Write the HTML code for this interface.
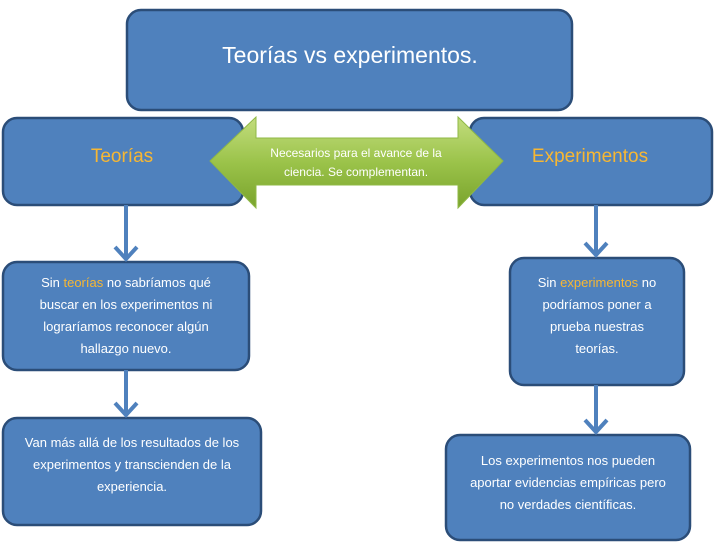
<!DOCTYPE html>
<html><head><meta charset="utf-8"><style>
body{margin:0;background:#fff;width:716px;height:549px;overflow:hidden}
svg{display:block}
text{font-family:"Liberation Sans",sans-serif;fill:#fff;text-anchor:middle}
</style></head><body>
<svg width="716" height="549" viewBox="0 0 716 549">
<defs>
<linearGradient id="g" x1="0" y1="0" x2="0" y2="1"><stop offset="0" stop-color="#c3dd7e"/><stop offset="0.5" stop-color="#9bc34a"/><stop offset="1" stop-color="#79a32c"/></linearGradient>
</defs>
<g fill="#4f81bd" stroke="#2b4d78" stroke-width="2.5">
<rect x="127" y="10" width="445" height="100" rx="14"/>
<rect x="3" y="118" width="240" height="87" rx="14"/>
<rect x="470" y="118" width="242" height="87" rx="14"/>
<rect x="3" y="262" width="246" height="108" rx="14"/>
<rect x="3" y="418" width="258" height="107" rx="14"/>
<rect x="510" y="258" width="174" height="127" rx="14"/>
<rect x="446" y="435" width="244" height="105" rx="14"/>
</g>
<g stroke="#4f81bd" stroke-width="4" fill="none">
<line x1="126" y1="205" x2="126" y2="259"/><polyline points="115,247 126,259 137,247"/>
<line x1="126" y1="370" x2="126" y2="415"/><polyline points="115,403 126,415 137,403"/>
<line x1="596" y1="205" x2="596" y2="255"/><polyline points="585,243 596,255 607,243"/>
<line x1="596" y1="385" x2="596" y2="432"/><polyline points="585,420 596,432 607,420"/>
</g>
<polygon points="210,161 256,117 256,138 458,138 458,117 503,161 458,208 458,185 256,185 256,208" fill="url(#g)" stroke="#8fb845" stroke-width="1"/>
<text x="350" y="63" font-size="23">Teorías vs experimentos.</text>
<text x="122" y="162" font-size="19" style="fill:#f7b733">Teorías</text>
<text x="590" y="162" font-size="19" style="fill:#f7b733">Experimentos</text>
<text x="356" y="157" font-size="12">Necesarios para el avance de la</text>
<text x="356" y="176" font-size="12">ciencia. Se complementan.</text>
<g font-size="13">
<text x="126" y="287">Sin <tspan style="fill:#f7b733">teorías</tspan> no sabríamos qué</text>
<text x="126" y="309">buscar en los experimentos ni</text>
<text x="126" y="331">lograríamos reconocer algún</text>
<text x="126" y="353">hallazgo nuevo.</text>
<text x="132" y="447">Van más allá de los resultados de los</text>
<text x="132" y="469">experimentos y transcienden de la</text>
<text x="132" y="491">experiencia.</text>
<text x="597" y="287">Sin <tspan style="fill:#f7b733">experimentos</tspan> no</text>
<text x="597" y="309">podríamos poner a</text>
<text x="597" y="331">prueba nuestras</text>
<text x="597" y="353">teorías.</text>
<text x="568" y="465">Los experimentos nos pueden</text>
<text x="568" y="487">aportar evidencias empíricas pero</text>
<text x="568" y="509">no verdades científicas.</text>
</g>
</svg>
</body></html>
